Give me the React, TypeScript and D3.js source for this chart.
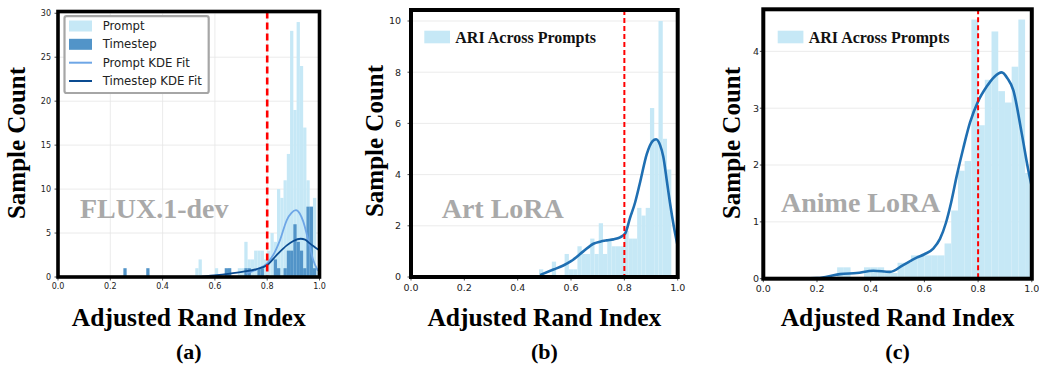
import React from "react";
import * as d3 from "d3";

// ---------- shared ----------
const xTicks = [0, 0.2, 0.4, 0.6, 0.8, 1.0];
const threshold = 0.8;

// ---------- (a) FLUX.1-dev ----------
const fluxBinWidth = 0.0125;
const fluxPromptStarts = [0.525, 0.5375, 0.6, 0.65, 0.6875, 0.7, 0.7125, 0.725, 0.7375, 0.75, 0.7625, 0.775, 0.7875, 0.8, 0.8125, 0.825, 0.8375, 0.85, 0.8625, 0.875, 0.8875, 0.9, 0.9125, 0.925, 0.9375, 0.95, 0.9625, 0.975, 0.9875];
const fluxPromptCounts = [1, 2, 1, 1, 1, 1, 4, 2, 2, 3, 3, 3, 2, 3, 5, 4, 10, 9, 11, 14, 28, 19, 29, 24, 17, 11, 8, 9, 1];
const fluxTimestepStarts = [0.25, 0.3375, 0.6375, 0.65, 0.7125, 0.725, 0.7625, 0.775, 0.825, 0.8375, 0.8625, 0.875, 0.8875, 0.9, 0.9125, 0.925, 0.9375, 0.95, 0.9625, 0.975];
const fluxTimestepCounts = [1, 1, 1, 1, 1, 1, 1, 1, 2, 1, 1, 3, 3, 6, 4, 3, 1, 8, 8, 1];
const fluxPromptKdeX = [0.72, 0.76, 0.8, 0.823, 0.849, 0.875, 0.893, 0.91, 0.925, 0.938, 0.957, 0.976, 0.989, 0.995];
const fluxPromptKdeY = [0.4, 0.85, 1.55, 2.5, 4.2, 6.48, 7.3, 7.6, 7.2, 6.3, 4.2, 1.93, 1.0, 0.7];
const fluxTimestepKdeX = [0.55, 0.607, 0.65, 0.709, 0.76, 0.8, 0.836, 0.875, 0.9, 0.928, 0.945, 0.964, 0.98, 0.998];
const fluxTimestepKdeY = [0.05, 0.2, 0.35, 0.6, 0.9, 1.36, 2.5, 3.6, 4.1, 4.35, 4.25, 3.8, 3.45, 3.07];
const fluxYTicks = [0, 5, 10, 15, 20, 25, 30];

// ---------- (b) Art LoRA ----------
const artBinWidth = 0.016;
const artStarts = [0.48, 0.496, 0.512, 0.528, 0.544, 0.56, 0.576, 0.592, 0.608, 0.624, 0.64, 0.656, 0.672, 0.688, 0.704, 0.72, 0.736, 0.752, 0.768, 0.784, 0.8, 0.816, 0.832, 0.848, 0.864, 0.88, 0.896, 0.912, 0.928, 0.944, 0.96];
const artCounts = [0.3, 0, 0, 0.6, 0, 0, 0.9, 0.3, 0.3, 1.2, 0.9, 0.9, 1.5, 0.9, 2.1, 0.9, 1.5, 1.2, 1.2, 1.2, 1.8, 1.5, 1.5, 2.7, 2.4, 2.7, 6.6, 5.4, 10, 5.4, 4.2];
const artKdeX = [0.484, 0.534, 0.571, 0.6, 0.646, 0.684, 0.709, 0.734, 0.759, 0.784, 0.803, 0.821, 0.84, 0.859, 0.884, 0.905, 0.919, 0.934, 0.946, 0.96, 0.971, 0.985, 1.0];
const artKdeY = [0.08, 0.29, 0.45, 0.62, 1.0, 1.3, 1.38, 1.43, 1.47, 1.55, 1.7, 2.3, 2.9, 3.7, 4.8, 5.3, 5.38, 5.15, 4.7, 3.7, 2.9, 2.0, 1.2];
const artYTicks = [0, 2, 4, 6, 8, 10];

// ---------- (c) Anime LoRA ----------
const animeBinWidth = 0.025;
const animeStarts = [0.275, 0.3, 0.325, 0.35, 0.375, 0.4, 0.425, 0.45, 0.475, 0.5, 0.525, 0.55, 0.575, 0.6, 0.625, 0.65, 0.675, 0.7, 0.725, 0.75, 0.775, 0.8, 0.825, 0.85, 0.875, 0.9, 0.925, 0.95, 0.975];
const animeCounts = [0.2, 0.2, 0, 0, 0.2, 0.2, 0.2, 0.1, 0.1, 0.28, 0.28, 0.41, 0.41, 0.41, 0.41, 0.41, 0.62, 1.2, 1.9, 2.07, 4.56, 2.7, 3.5, 4.35, 3.3, 3.1, 3.73, 4.56, 1.86];
const animeKdeX = [0, 0.1, 0.2, 0.236, 0.286, 0.348, 0.41, 0.472, 0.521, 0.571, 0.6, 0.633, 0.658, 0.68, 0.7, 0.72, 0.745, 0.77, 0.8, 0.832, 0.86, 0.888, 0.91, 0.931, 0.962, 0.987, 1.0];
const animeKdeY = [0.0, 0.0, 0.01, 0.035, 0.08, 0.1, 0.14, 0.12, 0.24, 0.37, 0.43, 0.53, 0.7, 0.98, 1.35, 1.8, 2.3, 2.75, 3.12, 3.38, 3.55, 3.63, 3.52, 3.32, 2.57, 1.91, 1.62];
const animeYTicks = [0, 1, 2, 3, 4];

const SERIF = "'Liberation Serif', 'Times New Roman', serif";
const SANS = "'DejaVu Sans', sans-serif";
const LIGHT = "#c6e8f6";

type Hist = { starts: number[]; counts: number[]; width: number; color: string };
type Kde = { xs: number[]; ys: number[]; color: string; width: number };

interface PanelCfg {
  id: string;
  left: number;
  right: number;
  top: number;
  bottom: number;
  yMax: number;
  yTicks: number[];
  tickFont: number;
  yLabelRight: number;
  xLabelBaseline: number;
  gridX: boolean;
  frameWidth: number;
  hists: Hist[];
  kdes: Kde[];
  redWidth: number;
  redDash: string;
  watermark: { text: string; x: number; y: number };
  yTitleX: number;
  yTitleY: number;
  caption: string;
  legend: React.ReactNode;
}

function Panel({ cfg }: { cfg: PanelCfg }) {
  const x = d3.scaleLinear().domain([0, 1]).range([cfg.left, cfg.right]);
  const y = d3.scaleLinear().domain([0, cfg.yMax]).range([cfg.bottom, cfg.top]);
  const clipId = `clip-${cfg.id}`;
  const cx = (cfg.left + cfg.right) / 2;

  const path = (k: Kde) =>
    d3
      .line<number>()
      .x((d) => x(d))
      .y((_, i) => y(k.ys[i]))
      .curve(d3.curveMonotoneX)(k.xs) || "";

  return (
    <g>
      <defs>
        <clipPath id={clipId}>
          <rect x={cfg.left} y={cfg.top} width={cfg.right - cfg.left} height={cfg.bottom - cfg.top} />
        </clipPath>
      </defs>
      {/* grid */}
      {cfg.yTicks.map((t) => (
        <line key={"gy" + t} x1={cfg.left} x2={cfg.right} y1={y(t)} y2={y(t)} stroke="#e6e6e6" strokeWidth={0.8} />
      ))}
      {cfg.gridX &&
        xTicks.map((t) => (
          <line key={"gx" + t} x1={x(t)} x2={x(t)} y1={cfg.top} y2={cfg.bottom} stroke="#e6e6e6" strokeWidth={0.8} />
        ))}
      <g clipPath={`url(#${clipId})`}>
        {cfg.hists.map((h, hi) =>
          h.starts.map((s, i) => (
            <rect
              key={`h${hi}-${i}`}
              x={x(s)}
              y={y(h.counts[i])}
              width={x(s + h.width) - x(s)}
              height={y(0) - y(h.counts[i])}
              fill={h.color}
            />
          ))
        )}
        {cfg.kdes.map((k, ki) => (
          <path key={"k" + ki} d={path(k)} fill="none" stroke={k.color} strokeWidth={k.width} />
        ))}
        <line
          x1={x(threshold)}
          x2={x(threshold)}
          y1={cfg.top}
          y2={cfg.bottom}
          stroke="#ff0000"
          strokeWidth={cfg.redWidth}
          strokeDasharray={cfg.redDash}
        />
      </g>
      <text x={cfg.watermark.x} y={cfg.watermark.y} fontFamily={SERIF} fontWeight="bold" fontSize={28} fill="#a9a9a9">
        {cfg.watermark.text}
      </text>
      {cfg.legend}
      {/* ticks */}
      {cfg.yTicks.map((t) => (
        <g key={"yt" + t}>
          <line x1={cfg.left - 3.5} x2={cfg.left} y1={y(t)} y2={y(t)} stroke="#222" strokeWidth={0.8} />
          <text x={cfg.yLabelRight} y={y(t)} dy="0.35em" textAnchor="end" fontFamily={SANS} fontSize={cfg.tickFont} fill="#222">
            {t}
          </text>
        </g>
      ))}
      {xTicks.map((t) => (
        <g key={"xt" + t}>
          <line x1={x(t)} x2={x(t)} y1={cfg.bottom} y2={cfg.bottom + 3.5} stroke="#222" strokeWidth={0.8} />
          <text x={x(t)} y={cfg.xLabelBaseline} textAnchor="middle" fontFamily={SANS} fontSize={cfg.tickFont} fill="#222">
            {t.toFixed(1)}
          </text>
        </g>
      ))}
      <rect
        x={cfg.left}
        y={cfg.top}
        width={cfg.right - cfg.left}
        height={cfg.bottom - cfg.top}
        fill="none"
        stroke="#000"
        strokeWidth={cfg.frameWidth}
      />
      <text
        transform={`translate(${cfg.yTitleX},${cfg.yTitleY}) rotate(-90)`}
        textAnchor="middle"
        fontFamily={SERIF}
        fontWeight="bold"
        fontSize={25}
        fill="#000"
      >
        Sample Count
      </text>
      <text x={cx} y={326} textAnchor="middle" fontFamily={SERIF} fontWeight="bold" fontSize={25.5} fill="#000">
        Adjusted Rand Index
      </text>
      <text x={cx} y={359} textAnchor="middle" fontFamily={SERIF} fontWeight="bold" fontSize={22} fill="#000">
        {cfg.caption}
      </text>
    </g>
  );
}

function FluxLegend() {
  const rows = [
    { label: "Prompt", kind: "patch", color: LIGHT },
    { label: "Timestep", kind: "patch", color: "#5294c8" },
    { label: "Prompt KDE Fit", kind: "line", color: "#6ea6e6" },
    { label: "Timestep KDE Fit", kind: "line", color: "#0a4b91" },
  ];
  const rowY = [26, 44.3, 62.7, 81];
  return (
    <g>
      <rect x={64.5} y={16.2} width={144.2} height={76.8} rx={2} fill="#fff" stroke="#a6a6a6" strokeWidth={2.2} />
      {rows.map((r, i) => (
        <g key={r.label}>
          {r.kind === "patch" ? (
            <rect x={69} y={rowY[i] - 5.5} width={23} height={11} fill={r.color} />
          ) : (
            <line x1={69} x2={92} y1={rowY[i]} y2={rowY[i]} stroke={r.color} strokeWidth={2} />
          )}
          <text x={102.7} y={rowY[i]} dy="0.35em" fontFamily={SANS} fontSize={11.7} fill="#222">
            {r.label}
          </text>
        </g>
      ))}
    </g>
  );
}

function AriLegend({ x0 }: { x0: number }) {
  return (
    <g>
      <rect x={x0} y={30.7} width={25.7} height={12.6} fill={LIGHT} />
      <text x={x0 + 31} y={37.3} dy="0.35em" fontFamily={SERIF} fontWeight="bold" fontSize={16} fill="#111">
        ARI Across Prompts
      </text>
    </g>
  );
}

const panels: PanelCfg[] = [
  {
    id: "a",
    left: 58,
    right: 319.5,
    top: 11.5,
    bottom: 277,
    yMax: 30.2,
    yTicks: fluxYTicks,
    tickFont: 8,
    yLabelRight: 51,
    xLabelBaseline: 289,
    gridX: true,
    frameWidth: 3.6,
    hists: [
      { starts: fluxPromptStarts, counts: fluxPromptCounts, width: fluxBinWidth, color: LIGHT },
      { starts: fluxTimestepStarts, counts: fluxTimestepCounts, width: fluxBinWidth, color: "#5294c8" },
    ],
    kdes: [
      { xs: fluxPromptKdeX, ys: fluxPromptKdeY, color: "#6ea6e6", width: 1.8 },
      { xs: fluxTimestepKdeX, ys: fluxTimestepKdeY, color: "#0a4b91", width: 1.8 },
    ],
    redWidth: 2.6,
    redDash: "7,4",
    watermark: { text: "FLUX.1-dev", x: 80, y: 218 },
    yTitleX: 25,
    yTitleY: 143,
    caption: "(a)",
    legend: <FluxLegend />,
  },
  {
    id: "b",
    left: 411,
    right: 677.7,
    top: 10,
    bottom: 277,
    yMax: 10.43,
    yTicks: artYTicks,
    tickFont: 9.5,
    yLabelRight: 401,
    xLabelBaseline: 291,
    gridX: false,
    frameWidth: 4,
    hists: [{ starts: artStarts, counts: artCounts, width: artBinWidth, color: LIGHT }],
    kdes: [{ xs: artKdeX, ys: artKdeY, color: "#1f6fb2", width: 2.6 }],
    redWidth: 2,
    redDash: "5,3",
    watermark: { text: "Art LoRA", x: 441.7, y: 218 },
    yTitleX: 383,
    yTitleY: 141,
    caption: "(b)",
    legend: <AriLegend x0={424.3} />,
  },
  {
    id: "c",
    left: 763.3,
    right: 1031.8,
    top: 9.3,
    bottom: 278.7,
    yMax: 4.74,
    yTicks: animeYTicks,
    tickFont: 9.5,
    yLabelRight: 759,
    xLabelBaseline: 292,
    gridX: false,
    frameWidth: 4,
    hists: [{ starts: animeStarts, counts: animeCounts, width: animeBinWidth, color: LIGHT }],
    kdes: [{ xs: animeKdeX, ys: animeKdeY, color: "#1f6fb2", width: 2.6 }],
    redWidth: 2,
    redDash: "5,3",
    watermark: { text: "Anime LoRA", x: 781, y: 212 },
    yTitleX: 740,
    yTitleY: 143,
    caption: "(c)",
    legend: <AriLegend x0={777.7} />,
  },
];

export default function App() {
  return (
    <svg
      width={1039}
      height={366}
      viewBox="0 0 1039 366"
      style={{ position: "absolute", left: 0, top: 0, background: "#fff" }}
    >
      <rect width={1039} height={366} fill="#fff" />
      {panels.map((p) => (
        <Panel key={p.id} cfg={p} />
      ))}
    </svg>
  );
}
